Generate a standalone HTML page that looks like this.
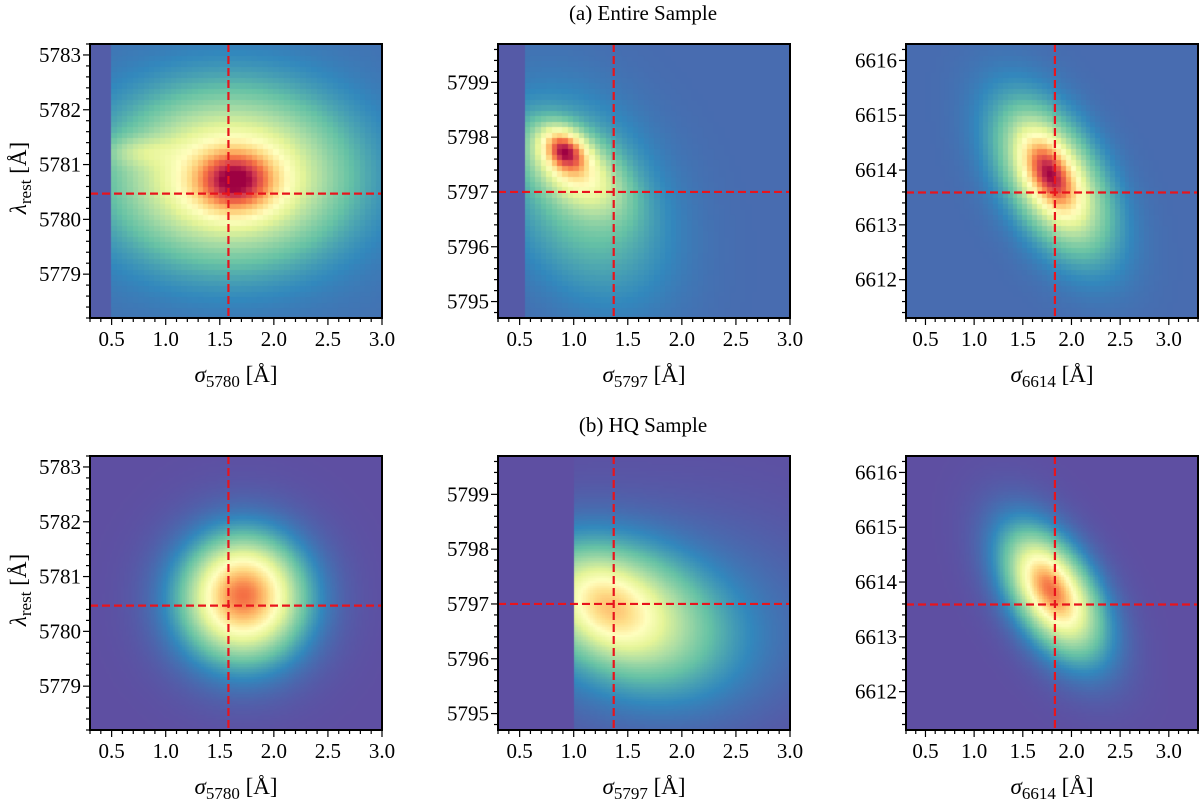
<!DOCTYPE html>
<html><head><meta charset="utf-8">
<style>
html,body{margin:0;padding:0;background:#fff;}
#wrap{position:relative;width:1200px;height:799px;overflow:hidden;}
canvas{position:absolute;left:0;top:0;}
svg{position:absolute;left:0;top:0;}
text{font-family:"Liberation Serif","DejaVu Serif",serif;fill:#000;}
</style></head>
<body>
<div id="wrap">
<canvas id="cv" width="1200" height="799"></canvas>
<svg id="sv" width="1200" height="799"></svg>
</div>
<script>
// ---- data ----
const panelNames = ["entire-5780","entire-5797","entire-6614","hq-5780","hq-5797","hq-6614"];
const xLimits = [[0.3,3.0],[0.3,3.0],[0.3,3.3],[0.3,3.0],[0.3,3.0],[0.3,3.3]];
const yLimits = [[5778.2,5783.2],[5794.7,5799.7],[6611.3,6616.3],[5778.2,5783.2],[5794.7,5799.7],[6611.3,6616.3]];
const yTickLabels = [[5779,5780,5781,5782,5783],[5795,5796,5797,5798,5799],[6612,6613,6614,6615,6616],
                     [5779,5780,5781,5782,5783],[5795,5796,5797,5798,5799],[6612,6613,6614,6615,6616]];
const xTickLabels = [[0.5,1.0,1.5,2.0,2.5,3.0],[0.5,1.0,1.5,2.0,2.5,3.0],[0.5,1.0,1.5,2.0,2.5,3.0],
                     [0.5,1.0,1.5,2.0,2.5,3.0],[0.5,1.0,1.5,2.0,2.5,3.0],[0.5,1.0,1.5,2.0,2.5,3.0]];
const medianX = [1.58,1.37,1.83,1.58,1.37,1.83];
const medianY = [5780.47,5797.0,6613.59,5780.47,5797.0,6613.59];
const xLabelSub = ["5780","5797","6614","5780","5797","6614"];
// density components per panel: [centerX, centerY, sigmaX, sigmaY, correlation, amplitude]
const components = [
  [[1.65,5780.72,0.25,0.38,0.0,0.5],[1.6,5780.8,0.7,1.0,0.0,0.5],[0.75,5781.25,0.22,0.18,0.0,0.1]],
  [[0.92,5797.78,0.13,0.25,-0.3,0.55],[1.0,5797.45,0.28,0.5,-0.5,0.33],[1.1,5796.9,0.5,1.2,-0.3,0.18]],
  [[1.78,6613.95,0.18,0.45,-0.5,0.5],[1.82,6613.85,0.38,0.9,-0.5,0.45]],
  [[1.72,5780.72,0.25,0.5,0.0,0.28],[1.72,5780.6,0.4,0.8,0.0,0.52]],
  [[1.3,5797.0,0.28,0.5,-0.3,0.25],[1.45,5796.9,0.55,0.85,-0.3,0.33],[1.8,5796.6,1.0,1.3,0.0,0.1]],
  [[1.78,6613.9,0.18,0.42,-0.5,0.28],[1.82,6613.8,0.35,0.8,-0.5,0.52]]
];
const background = [0.06,0.05,0.05,0.0,0.0,0.0];
const dataMinX = [0.5,0.55,0.3,0.3,1.0,0.3];
const dataMaxX = [3.0,3.0,3.3,3.0,3.0,3.0];
const binX = [0.05,0.05,0.05,0.022,0.022,0.025];
const binY = [0.1,0.1,0.1,0.045,0.045,0.05];

// ---- layout ----
const lefts=[90,498,906,90,498,906], tops=[44,44,44,456,456,456], W=292, H=274;
const cmap=["#5e4fa2","#3288bd","#66c2a5","#abdda4","#e6f598","#ffffbf","#fee08b","#fdae61","#f46d43","#d53e4f","#9e0142"];
function hex(h){return [parseInt(h.substr(1,2),16),parseInt(h.substr(3,2),16),parseInt(h.substr(5,2),16)];}
const cm=cmap.map(hex);
function color(v){v=Math.max(0,Math.min(1,v));const t=v*10,i=Math.min(9,Math.floor(t)),f=t-i;
 const a=cm[i],b=cm[i+1];return `rgb(${Math.round(a[0]+(b[0]-a[0])*f)},${Math.round(a[1]+(b[1]-a[1])*f)},${Math.round(a[2]+(b[2]-a[2])*f)})`;}
function density(p,x,y){
 if(x<dataMinX[p]||x>dataMaxX[p]) return background[p]*0.4;
 let v=background[p];
 for(const c of components[p]){const dx=(x-c[0])/c[2],dy=(y-c[1])/c[3],r=c[4];
  v+=c[5]*Math.exp(-0.5*(dx*dx+dy*dy-2*r*dx*dy)/(1-r*r));}
 return v;
}
const cv=document.getElementById('cv'),ctx=cv.getContext('2d');
const NS="http://www.w3.org/2000/svg",sv=document.getElementById('sv');
function el(tag,attrs,parent){const e=document.createElementNS(NS,tag);for(const k in attrs)e.setAttribute(k,attrs[k]);(parent||sv).appendChild(e);return e;}

for(let p=0;p<6;p++){
 const [x0,x1]=xLimits[p],[y0,y1]=yLimits[p],L=lefts[p],T=tops[p];
 const sx=v=>L+(v-x0)/(x1-x0)*W, sy=v=>T+H-(v-y0)/(y1-y0)*H;
 ctx.save();ctx.beginPath();ctx.rect(L,T,W,H);ctx.clip();
 for(let x=x0;x<x1;x+=binX[p]){for(let y=y0;y<y1;y+=binY[p]){
  ctx.fillStyle=color(density(p,x+binX[p]/2,y+binY[p]/2));
  const px=sx(x),py=sy(y+binY[p]);
  ctx.fillRect(Math.floor(px),Math.floor(py),Math.ceil(sx(x+binX[p])-px)+1,Math.ceil(sy(y)-py)+1);}}
 ctx.restore();
 const g=el('g',{});
 
 
 const vl=el('line',{x1:sx(medianX[p]),x2:sx(medianX[p]),y1:T,y2:T+H,stroke:"#e8141c","stroke-width":2.2,"stroke-dasharray":"8,4"},g);
 
 
 const hl=el('line',{x1:L,x2:L+W,y1:sy(medianY[p]),y2:sy(medianY[p]),stroke:"#e8141c","stroke-width":2.2,"stroke-dasharray":"8,4"},g);
 
 
 const fr=el('rect',{x:L,y:T,width:W,height:H,fill:"none",stroke:"#000","stroke-width":2},g);
 
 
 for(let k=Math.ceil(x0*10-1e-6);k<=Math.floor(x1*10+1e-6);k++){const v=k/10,X=sx(v);const major=(k%5===0);
  el('line',{x1:X,x2:X,y1:T+H,y2:T+H+(major?7:4),stroke:"#000","stroke-width":1.2},g);}
 for(const v of xTickLabels[p]){const t=el('text',{x:sx(v),y:T+H+28,"font-size":21,"text-anchor":"middle"},g);t.textContent=v.toFixed(1);
  
  }
 for(let k=Math.ceil(y0*5-1e-6);k<=Math.floor(y1*5+1e-6);k++){const v=k/5,Y=sy(v);const major=(k%5===0);
  el('line',{x1:L,x2:L-(major?7:4),y1:Y,y2:Y,stroke:"#000","stroke-width":1.2},g);}
 for(const v of yTickLabels[p]){const t=el('text',{x:L-9,y:sy(v)+7,"font-size":21,"text-anchor":"end"},g);t.textContent=v;
  
  }
 const xl=el('text',{x:L+W/2,y:T+H+64,"font-size":23,"text-anchor":"middle"},g);
 
 
 xl.innerHTML='<tspan font-style="italic">σ</tspan><tspan font-size="17" dy="5">'+xLabelSub[p]+'</tspan><tspan dy="-5"> [Å]</tspan>';
 if(p%3===0){const yl=el('text',{x:0,y:0,"font-size":23,"text-anchor":"middle",transform:`translate(26,${T+H/2-3}) rotate(-90)`},g);
  
  
  yl.innerHTML='<tspan font-style="italic">λ</tspan><tspan font-size="17" dy="5">rest</tspan><tspan dy="-5"> [Å]</tspan>';}
}
const t1=el('text',{x:643,y:20,"font-size":21,"text-anchor":"middle"});t1.textContent="(a)  Entire Sample";


const t2=el('text',{x:643,y:432,"font-size":21,"text-anchor":"middle"});t2.textContent="(b)  HQ Sample";


</script>
</body></html>
